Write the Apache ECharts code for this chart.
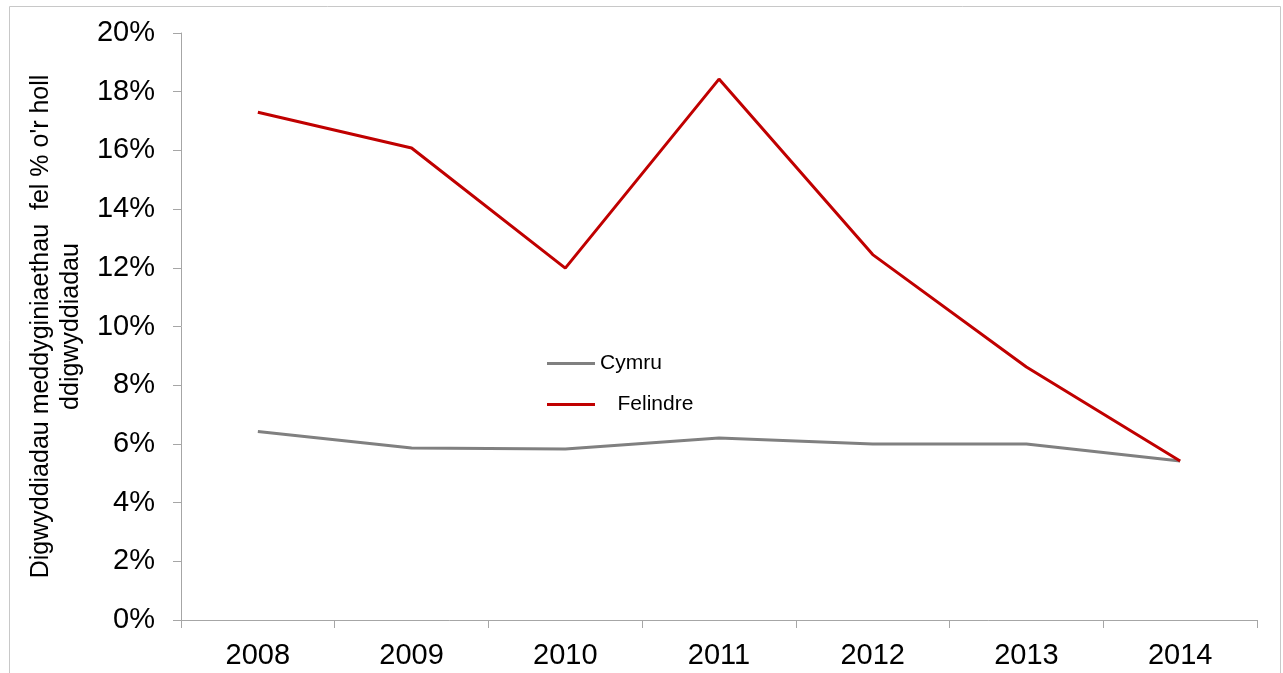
<!DOCTYPE html>
<html>
<head>
<meta charset="utf-8">
<script src="https://cdn.jsdelivr.net/npm/echarts@6/dist/echarts.min.js"></script>
<style>
html,body{margin:0;padding:0;background:#fff;}
#chart{width:1283px;height:673px;}
</style>
</head>
<body>
<div id="chart"></div>
<script>
const years = ['2008','2009','2010','2011','2012','2013','2014'];
const cymru = [6.42, 5.86, 5.83, 6.2, 6.0, 6.0, 5.42];
const felindre = [17.3, 16.08, 11.99, 18.43, 12.45, 8.62, 5.42];
const yTicks = [0, 2, 4, 6, 8, 10, 12, 14, 16, 18, 20];
const yTitle = "Digwyddiadau meddyginiaethau  fel % o'r holl\nddigwyddiadau";

const chart = echarts.init(document.getElementById('chart'));
chart.setOption({
  animation: false,
  backgroundColor: '#fff',
  graphic: [{
    type: 'rect',
    shape: {x: 9.5, y: 6.5, width: 1271, height: 680},
    style: {fill: 'none', stroke: '#c8c8c8', lineWidth: 1},
    silent: true
  }],
  grid: {left: 181, right: 26, top: 33, bottom: 53, containLabel: false},
  legend: {
    left: 542, top: 348, orient: 'vertical',
    itemWidth: 48, itemHeight: 3, itemGap: 20, icon: 'rect',
    formatter: function (n) { return n === 'Felindre' ? '   Felindre' : n; },
    textStyle: {fontFamily: 'Liberation Sans, Arial', fontSize: 21, color: '#000'},
    data: ['Cymru', 'Felindre']
  },
  xAxis: {
    type: 'category', data: years, boundaryGap: true,
    axisLine: {lineStyle: {color: '#a6a6a6', width: 1}},
    axisTick: {show: true, length: 8, lineStyle: {color: '#a6a6a6'}},
    axisLabel: {fontFamily: 'Liberation Sans, Arial', fontSize: 29, color: '#000', margin: 21}
  },
  yAxis: {
    type: 'value', min: 0, max: 20, interval: 2,
    name: yTitle, nameLocation: 'middle', nameGap: 93, nameRotate: 90,
    nameTextStyle: {fontFamily: 'Liberation Sans, Arial', fontSize: 25, color: '#000', lineHeight: 30},
    axisLine: {show: true, lineStyle: {color: '#a6a6a6', width: 1}},
    axisTick: {show: true, length: 8, lineStyle: {color: '#a6a6a6'}},
    splitLine: {show: false},
    axisLabel: {
      fontFamily: 'Liberation Sans, Arial', fontSize: 29, color: '#000', margin: 26,
      formatter: function (v) { return yTicks.indexOf(v) >= 0 ? v + '%' : ''; }
    }
  },
  series: [
    {name: 'Cymru', type: 'line', data: cymru, showSymbol: false, symbol: 'none',
     lineStyle: {color: '#808080', width: 3}, itemStyle: {color: '#808080'}},
    {name: 'Felindre', type: 'line', data: felindre, showSymbol: false, symbol: 'none',
     lineStyle: {color: '#c00000', width: 3}, itemStyle: {color: '#c00000'}}
  ]
});
</script>
</body>
</html>
